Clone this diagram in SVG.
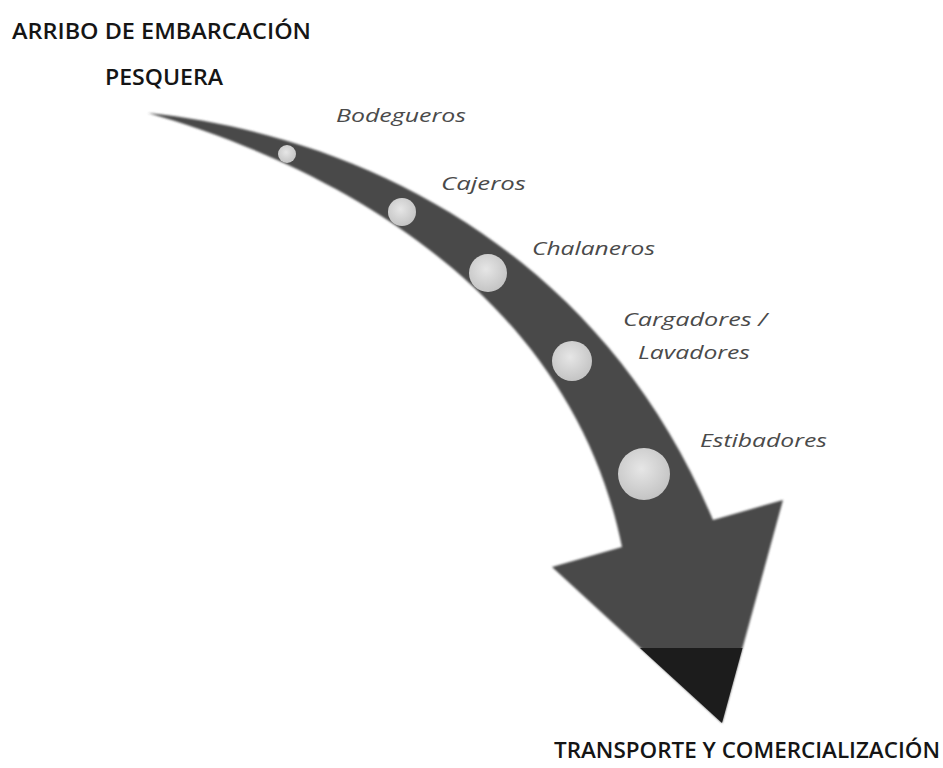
<svg xmlns="http://www.w3.org/2000/svg" width="943" height="768" viewBox="0 0 943 768">
<defs>
<style>
.title{font-family:"Open Sans","Liberation Sans",sans-serif;font-weight:600;font-size:21px;fill:#151515;}
.lbl{font-family:"Open Sans","Liberation Sans",sans-serif;font-style:italic;font-size:18px;fill:#4a4a4a;}
.dot{fill:url(#dotg);}
</style>
<radialGradient id="dotg" cx="0.45" cy="0.4" r="0.6">
<stop offset="0" stop-color="#e6e6e6"/>
<stop offset="1" stop-color="#c4c4c4"/>
</radialGradient>
<filter id="soft" x="-5%" y="-5%" width="110%" height="110%">
<feGaussianBlur stdDeviation="0.8"/>
</filter>
</defs>
<rect width="943" height="768" fill="#ffffff"/>
<g id="connectors">
<path id="arrow" d="M148,113 C 360,135 600,250 713,520 L 783,500 L 722,723 L 552,567 L 622,547 C 570,290 330,165 148,113 Z" fill="#484848" filter="url(#soft)"/>
<polygon points="640,648 742.5,648 722,723" fill="#1c1c1c"/>
</g>
<g id="title-start">
<text class="title" x="12" y="39" textLength="299" lengthAdjust="spacingAndGlyphs">ARRIBO DE EMBARCACIÓN</text>
<text class="title" x="105" y="85" textLength="118" lengthAdjust="spacingAndGlyphs">PESQUERA</text>
</g>
<g id="title-end">
<text class="title" x="554" y="758" textLength="386" lengthAdjust="spacingAndGlyphs">TRANSPORTE Y COMERCIALIZACIÓN</text>
</g>
<g id="node-bodegueros">
<circle class="dot" cx="287" cy="154" r="9"/>
<text class="lbl" x="336" y="122" textLength="130" lengthAdjust="spacingAndGlyphs">Bodegueros</text>
</g>
<g id="node-cajeros">
<circle class="dot" cx="402" cy="212" r="14"/>
<text class="lbl" x="441" y="190" textLength="85" lengthAdjust="spacingAndGlyphs">Cajeros</text>
</g>
<g id="node-chalaneros">
<circle class="dot" cx="488" cy="273" r="19"/>
<text class="lbl" x="532" y="255" textLength="123" lengthAdjust="spacingAndGlyphs">Chalaneros</text>
</g>
<g id="node-cargadores">
<circle class="dot" cx="572" cy="361" r="20"/>
<text class="lbl" x="623" y="326" textLength="144" lengthAdjust="spacingAndGlyphs">Cargadores /</text>
<text class="lbl" x="638" y="359" textLength="112" lengthAdjust="spacingAndGlyphs">Lavadores</text>
</g>
<g id="node-estibadores">
<circle class="dot" cx="644" cy="474" r="26"/>
<text class="lbl" x="700" y="447" textLength="127" lengthAdjust="spacingAndGlyphs">Estibadores</text>
</g>
</svg>
